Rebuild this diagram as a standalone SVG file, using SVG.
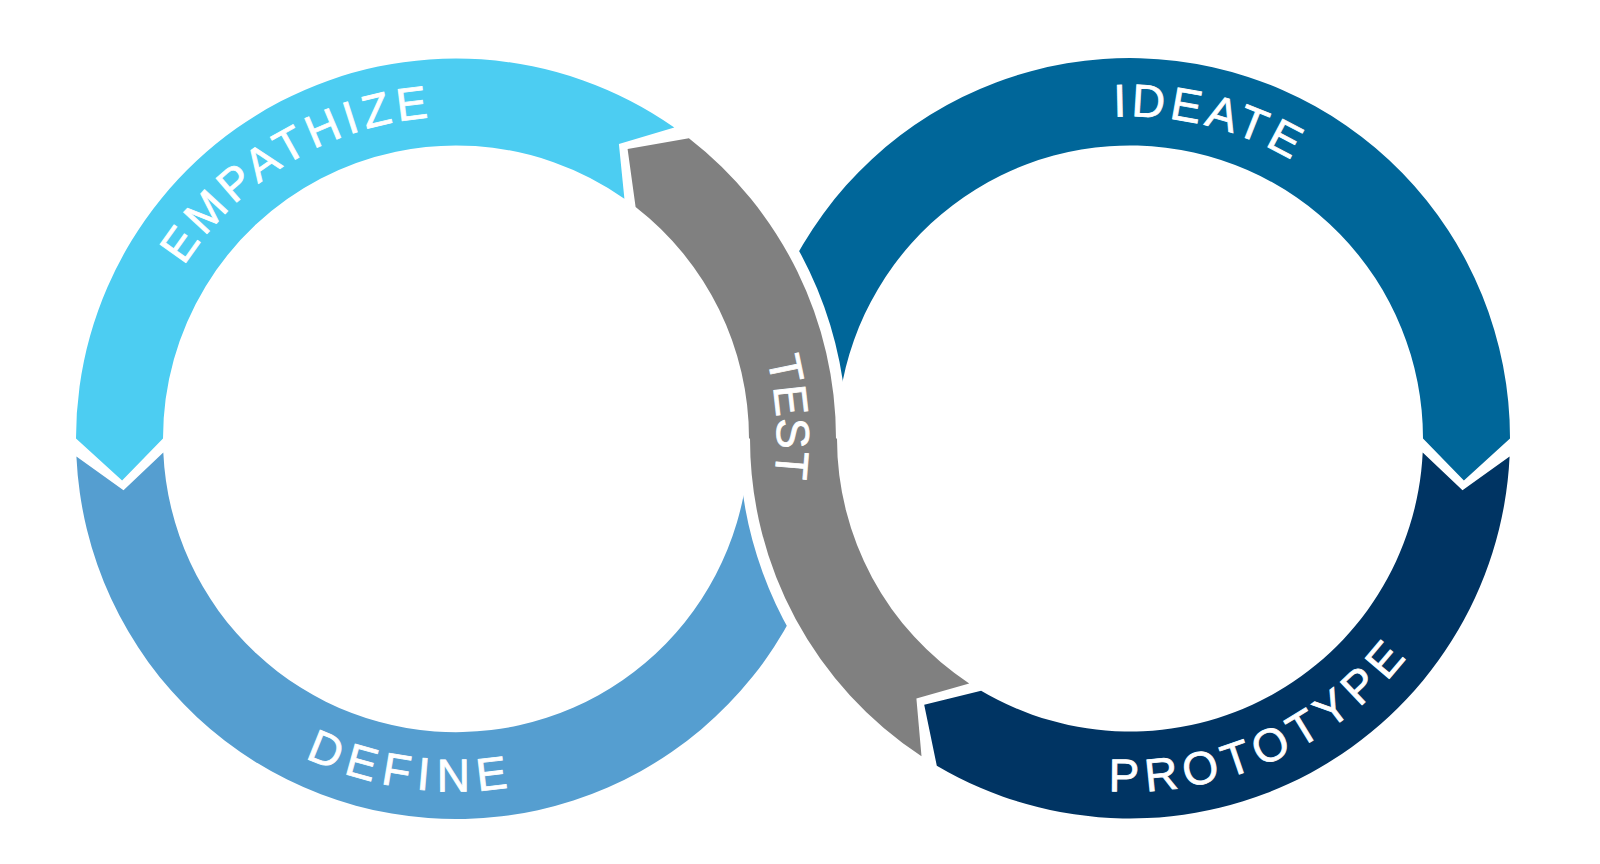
<svg xmlns="http://www.w3.org/2000/svg" width="1600" height="864" viewBox="0 0 1600 864">
  <style>
    .lbl { font-family: "Liberation Sans", Arial, sans-serif; font-size: 46px; fill: #ffffff; stroke: #ffffff; stroke-width: 0.8; }
    .empathize { fill: #4CCDF2; }
    .define { fill: #559ED0; }
    .ideate { fill: #006699; }
    .prototype { fill: #003463; }
    .test { fill: #808080; }
    .cutter { fill: #ffffff; stroke: #ffffff; stroke-width: 22; stroke-linejoin: round; }
  </style>
  <defs>
    <path id="arc-empathize" d="M 134,443 A 322 322 0 0 1 613.1,157.4"/>
    <path id="arc-ideate" d="M 898.4,214.8 A 322 322 0 0 1 1439.5,349.7"/>
    <path id="arc-test" d="M 598.7,151 A 321 321 0 0 1 633.6,705.9"/>
    <path id="arc-define" d="M 129.3,572.2 A 353 353 0 0 0 735.1,654.6"/>
    <path id="arc-prototype" d="M 925.5,726.2 A 353 353 0 0 0 1481.4,471.7"/>
  </defs>
  <rect x="0" y="0" width="1600" height="864" fill="#ffffff"/>

  <g id="define">
    <path class="define" d="M 76.4,456.5 L 123.5,490.3 L 163.3,452.4 A 293 293 0 0 0 749,438.5 L 836,438.5 A 380 380 0 0 1 76.4,456.5 Z"/>
    <text class="lbl" letter-spacing="8"><textPath href="#arc-define" startOffset="50%" text-anchor="middle">DEFINE</textPath></text>
  </g>

  <g id="ideate">
    <path class="ideate" d="M 750.5,418.6 A 380 380 0 0 1 1510,438.5 L 1463.9,480.4 L 1423,438.5 A 293 293 0 0 0 837.4,423.2 Z"/>
    <text class="lbl" letter-spacing="4.5"><textPath href="#arc-ideate" startOffset="50%" text-anchor="middle">IDEATE</textPath></text>
  </g>

  <g id="empathize">
    <path class="empathize" d="M 674.3,127.5 L 618.9,144.1 L 624.4,198.7 A 293 293 0 0 0 163,438.5 L 122.1,480.4 L 76,438.5 A 380 380 0 0 1 674.3,127.5 Z"/>
    <text class="lbl" letter-spacing="5"><textPath href="#arc-empathize" startOffset="50%" text-anchor="middle">EMPATHIZE</textPath></text>
  </g>

  <g id="prototype">
    <path class="prototype" d="M 1509.6,456.5 L 1462.5,490.3 L 1422.7,452.4 A 293 293 0 0 1 981.1,690.8 L 924.2,704.7 L 936.8,765.7 A 380 380 0 0 0 1509.6,456.5 Z"/>
    <text class="lbl" letter-spacing="7"><textPath href="#arc-prototype" startOffset="50%" text-anchor="middle">PROTOTYPE</textPath></text>
  </g>

  <g id="test">
    <path class="cutter" d="M 838.9,682.8 L 905.5,626.8 A 293 293 0 0 1 837,438.5 L 836,438.5 A 380 380 0 0 0 724.7,169.8 L 663.2,231.3 A 293 293 0 0 1 749,438.5 L 750,438.5 A 380 380 0 0 0 838.9,682.8 Z"/>
    <path class="test" d="M 921.5,756.2 L 916.4,698.5 L 969.2,683.4 A 293 293 0 0 1 837,438.5 L 836,438.5 A 380 380 0 0 0 688.9,138.2 L 627.6,149 L 635.6,207 A 293 293 0 0 1 749,438.5 L 750,438.5 A 380 380 0 0 0 921.5,756.2 Z"/>
    <text class="lbl" letter-spacing="1"><textPath href="#arc-test" startOffset="50%" text-anchor="middle">TEST</textPath></text>
  </g>
</svg>
